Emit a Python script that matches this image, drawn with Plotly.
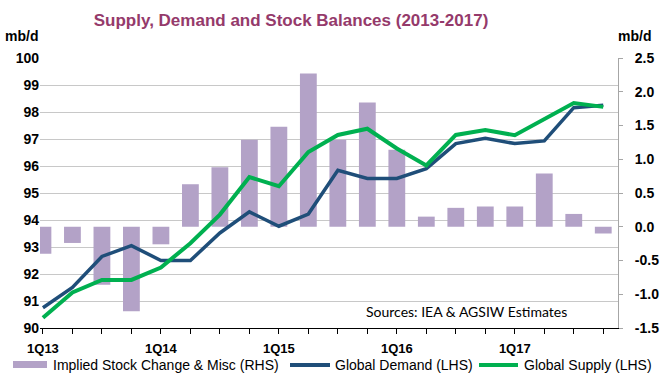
import plotly.graph_objects as go

quarters = [f"{q}Q{y}" for y in range(13, 18) for q in range(1, 5)]
stock_change = [-0.40, -0.24, -0.86, -1.25, -0.26, 0.63, 0.88, 1.29, 1.48, 2.27,
                1.29, 1.84, 1.14, 0.15, 0.28, 0.30, 0.30, 0.79, 0.19, -0.10]
global_demand = [90.75, 91.50, 92.65, 93.05, 92.50, 92.50, 93.52, 94.30, 93.77, 94.22,
                 95.84, 95.54, 95.54, 95.90, 96.83, 97.03, 96.83, 96.93, 98.16, 98.25]
global_supply = [90.38, 91.32, 91.78, 91.78, 92.24, 93.14, 94.20, 95.59, 95.25, 96.52,
                 97.15, 97.38, 96.65, 96.02, 97.15, 97.33, 97.14, 97.73, 98.33, 98.19]
shown_ticks = ["1Q13", "1Q14", "1Q15", "1Q16", "1Q17"]
tick_text = [q if q in shown_ticks else "" for q in quarters]
rhs_ticks = [-1.5, -1.0, -0.5, 0.0, 0.5, 1.0, 1.5, 2.0, 2.5]
rhs_labels = ["-1.5", "-1.0", "-0.5", "0.0", "0.5", "1.0", "1.5", "2.0", "2.5"]

W, H = 660, 387
ML, MR, MT, MB = 40, 42, 58, 59
PW, PH = W - ML - MR, H - MT - MB


def px(x):
    return (x - ML) / PW


def py(y):
    return (H - MB - y) / PH


BAR_C = "#B3A2C7"
BLUE = "#1F4E79"
GREEN = "#00B050"
FONT = "Liberation Sans, Arial, sans-serif"
LEG_FONT = dict(family=FONT, size=14, color="black")

fig = go.Figure()
fig.add_trace(go.Bar(x=quarters, y=stock_change, name="Implied Stock Change & Misc (RHS)",
                     marker=dict(color=BAR_C, line=dict(width=0)), width=0.57,
                     yaxis="y", showlegend=False))
fig.add_trace(go.Scatter(x=quarters, y=global_demand, name="Global Demand (LHS)",
                         mode="lines", line=dict(color=BLUE, width=3.5),
                         yaxis="y2", showlegend=False))
fig.add_trace(go.Scatter(x=quarters, y=global_supply, name="Global Supply (LHS)",
                         mode="lines", line=dict(color=GREEN, width=4),
                         yaxis="y2", showlegend=False))

fig.update_layout(
    width=W, height=H,
    margin=dict(l=ML, r=MR, t=MT, b=MB, autoexpand=False),
    paper_bgcolor="white", plot_bgcolor="white",
    title=dict(text="Supply, Demand and Stock Balances (2013-2017)",
               x=0.441, xanchor="center", xref="container",
               y=1 - 20 / H, yanchor="middle", yref="container",
               font=dict(family=FONT, size=17, color="#953A6B", weight="bold")),
    xaxis=dict(type="category", range=[-0.1, 19.5], tickmode="array",
               tickvals=quarters, ticktext=tick_text, ticks="outside", ticklen=5,
               tickcolor="black", showline=True, linecolor="black", linewidth=1,
               showgrid=False, tickangle=0, automargin=False, ticklabelstandoff=3,
               tickfont=dict(family=FONT, size=13, color="black", weight="bold")),
    yaxis=dict(side="right", range=[-1.5, 2.5], tickmode="array", tickvals=rhs_ticks,
               ticktext=rhs_labels, automargin=False,
               showgrid=False, zeroline=False, showline=True, linecolor="#A6A6A6",
               linewidth=1, ticks="outside", ticklen=4, tickcolor="#A6A6A6",
               ticklabelstandoff=9,
               tickfont=dict(family=FONT, size=14, color="black", weight="bold")),
    yaxis2=dict(side="left", overlaying="y", range=[90, 100], dtick=1,
                showgrid=True, gridcolor="#C8C8C8", gridwidth=1.3, zeroline=False,
                showline=False, ticks="", automargin=False,
                tickfont=dict(family=FONT, size=14, color="black", weight="bold")),
)

annotations = [
    dict(text="mb/d", x=px(21), y=py(36), xref="paper", yref="paper", showarrow=False,
         xanchor="center", yanchor="middle",
         font=dict(family=FONT, size=14, color="black", weight="bold")),
    dict(text="mb/d", x=px(635), y=py(36), xref="paper", yref="paper", showarrow=False,
         xanchor="center", yanchor="middle",
         font=dict(family=FONT, size=14, color="black", weight="bold")),
    dict(text="Sources: IEA & AGSIW Estimates", x=px(466), y=py(311), xref="paper",
         yref="paper", showarrow=False, xanchor="center", yanchor="middle",
         font=dict(family="Lato, Open Sans, sans-serif", size=14, color="black")),
    dict(text="Implied Stock Change & Misc (RHS)", x=px(51), y=py(365), xref="paper",
         yref="paper", showarrow=False, xanchor="left", yanchor="middle", font=LEG_FONT),
    dict(text="Global Demand (LHS)", x=px(333), y=py(365), xref="paper",
         yref="paper", showarrow=False, xanchor="left", yanchor="middle", font=LEG_FONT),
    dict(text="Global Supply (LHS)", x=px(522), y=py(365), xref="paper",
         yref="paper", showarrow=False, xanchor="left", yanchor="middle", font=LEG_FONT),
]
fig.update_layout(annotations=annotations)

shapes = [
    dict(type="rect", xref="paper", yref="paper", x0=px(13), x1=px(47),
         y0=py(368), y1=py(361), fillcolor=BAR_C, line=dict(width=0)),
    dict(type="line", xref="paper", yref="paper", x0=px(290), x1=px(330),
         y0=py(365), y1=py(365), line=dict(color=BLUE, width=4)),
    dict(type="line", xref="paper", yref="paper", x0=px(479), x1=px(518),
         y0=py(365), y1=py(365), line=dict(color=GREEN, width=4)),
]
fig.update_layout(shapes=shapes)

fig.write_html("out.html", config={"displayModeBar": False},
               post_script="document.body.style.margin='0';")
